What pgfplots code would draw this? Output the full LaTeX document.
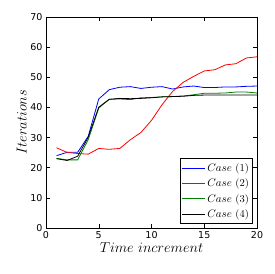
\documentclass[border=0pt]{standalone}
\usepackage{pgfplots}
\pgfplotsset{compat=1.18}
\usepackage{fontspec}
\newfontfamily\dejavu{DejaVu Sans}
\usetikzlibrary{calc}
\begin{document}
\begin{tikzpicture}[x=1pt,y=1pt]
\begin{axis}[
  width=211pt, height=211pt, scale only axis,
  xmin=0, xmax=20, ymin=0, ymax=70,
  xtick={0,5,10,15,20}, ytick={0,10,...,70},
  tick align=inside, major tick length=4pt,
  tick style={black, line width=0.5pt},
  axis line style={line width=0.8pt},
  ticklabel style={font=\dejavu\fontsize{9.5}{11}\selectfont},
  /pgf/number format/assume math mode=true,
  xlabel={$Time\ increment$}, ylabel={$Iterations$},
  label style={font=\fontsize{15}{17}\selectfont},
  xlabel style={yshift=3pt}, ylabel style={yshift=-3pt},
  legend style={at={(0.98,0.02)}, anchor=south east, draw=black, line width=0.8pt,
    font=\fontsize{10.5}{12}\selectfont, row sep=2pt, inner xsep=2pt, inner ysep=2.5pt,
    nodes={inner xsep=1.5pt}},
  legend cell align=left,
  legend image code/.code={\draw[#1, line width=0.8pt] (1.5pt,0pt) -- (16.5pt,0pt); \path (0,0) -- (23pt,0);},
  every axis plot/.append style={line width=0.8pt},
]
\coordinate (sw) at (rel axis cs:0,0);
\coordinate (ne) at (rel axis cs:1,1);
\addplot[color=blue] coordinates {(1,24.0)(2,25.1)(3,25.1)(4,30.4)(5,42.8)(6,45.9)(7,46.7)(8,46.9)(9,46.3)(10,46.7)(11,46.9)(12,46.1)(13,46.8)(14,47.1)(15,46.6)(16,46.6)(17,46.8)(18,46.8)(19,47.0)(20,47.1)};
\addplot[color=red] coordinates {(1,26.6)(2,25.1)(3,24.7)(4,24.5)(5,26.4)(6,26.1)(7,26.4)(8,29.3)(9,31.7)(10,35.7)(11,40.9)(12,45.3)(13,48.3)(14,50.3)(15,52.1)(16,52.5)(17,54.1)(18,54.5)(19,56.4)(20,56.8)};
\addplot[color=black!50!green] coordinates {(1,23.1)(2,22.6)(3,22.6)(4,29.3)(5,39.8)(6,42.7)(7,42.8)(8,42.6)(9,43.2)(10,43.3)(11,43.5)(12,43.6)(13,43.8)(14,44.2)(15,44.7)(16,44.7)(17,44.8)(18,45.1)(19,45.1)(20,44.8)};
\addplot[color=black] coordinates {(1,23.0)(2,22.4)(3,23.8)(4,30.1)(5,40.1)(6,42.7)(7,43.0)(8,42.9)(9,43.0)(10,43.2)(11,43.5)(12,43.6)(13,43.7)(14,44.0)(15,44.1)(16,44.1)(17,44.1)(18,44.1)(19,44.1)(20,44.1)};
\legend{$Case$ (1), $Case$ (2), $Case$ (3), $Case$ (4)}
\end{axis}
\pgfresetboundingbox
\path ($(sw)+(-46pt,-46pt)$) rectangle ($(ne)+(17pt,17pt)$);
\end{tikzpicture}
\end{document}
